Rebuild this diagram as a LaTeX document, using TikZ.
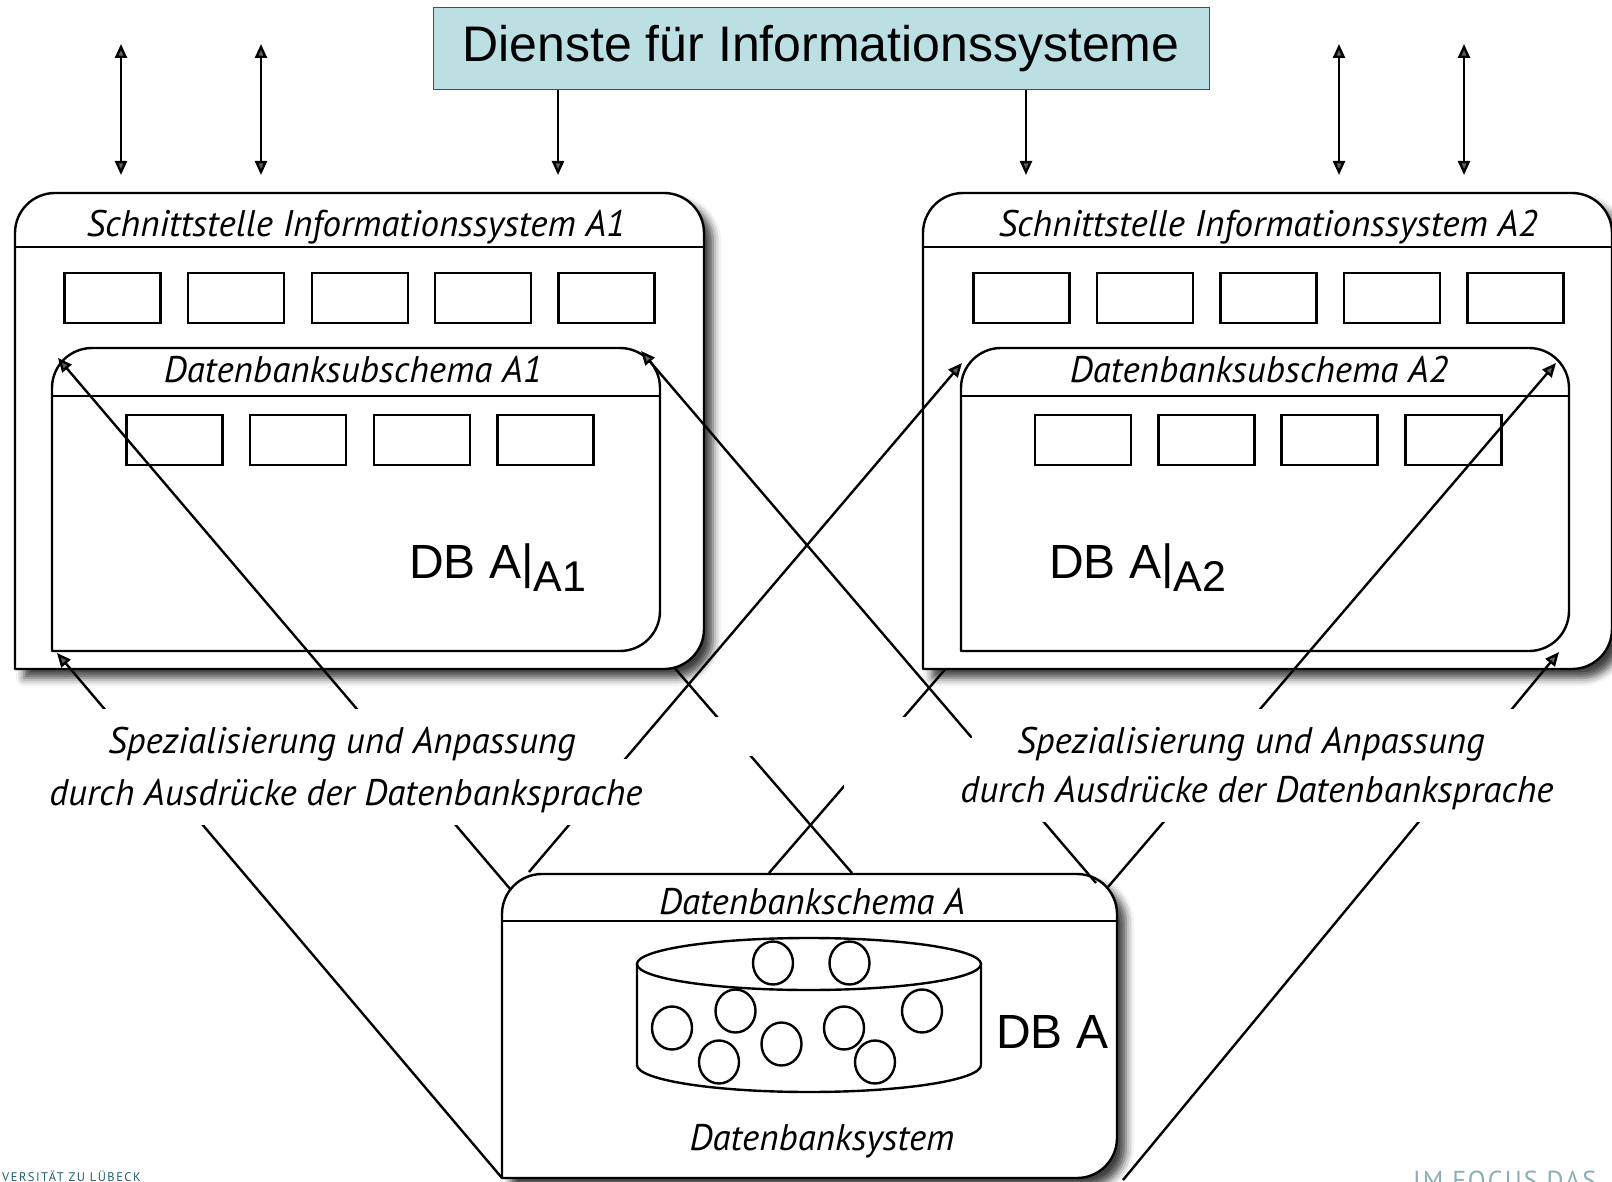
\documentclass[tikz,border=0pt]{standalone}
\usepackage{fontspec}
\setmainfont{Liberation Sans}
\newfontfamily\labelfont{PT Sans}
\usetikzlibrary{arrows.meta,shadows.blur}

\definecolor{titlefill}{HTML}{BBDFE2}
\definecolor{uniblue}{HTML}{1F5C70}
\definecolor{focusblue}{HTML}{8AAEB5}

\tikzset{
  slot/.style={draw,fill=white,minimum width=96pt,minimum height=50pt,inner sep=0pt},
  framebox/.style={draw,fill=white,line join=round},
  dropshadow/.style={blur shadow={shadow xshift=9pt,shadow yshift=-9pt,shadow blur radius=8pt,shadow opacity=75}},
  marble/.style={draw,fill=white,ellipse,minimum width=40pt,minimum height=43pt,inner sep=0pt},
  headtext/.style={font=\labelfont\itshape\fontsize{37}{37}\selectfont,inner sep=0pt,anchor=base},
  dbtext/.style={font=\fontsize{48}{48}\selectfont,inner sep=0pt,anchor=base west},
  link/.style={-{Triangle[length=14pt,width=12pt]}},
  twoway/.style={{Triangle[length=14pt,width=12pt]}-{Triangle[length=14pt,width=12pt]}}
}
\usetikzlibrary{shapes.geometric}

% draws a box with rounded top corners and a head line
\newcommand{\headbox}[6][]{
  \draw[framebox,#1] (#2,#5) [rounded corners=40pt] -- (#2,#3) -- (#4,#3) -- (#4,#5) [sharp corners] -- cycle;
  \draw (#2,#6) -- (#4,#6);
}
\newcommand{\dbsub}[2]{DB A|{\fontsize{43}{43}\selectfont\raisebox{-13pt}{#1#2}}}

\begin{document}
\begin{tikzpicture}
  [x=1pt,y=-1pt,line width=2.4pt]
  \useasboundingbox (0,0) rectangle (1612,1182);
  \clip (0,0) rectangle (1612,1182);

  % line ends
  \coordinate (a1tl) at (58,358);
  \coordinate (a1tr) at (641,351);
  \coordinate (a1bl) at (57,653);
  \coordinate (a1br) at (660,651);
  \coordinate (a2tl) at (962,363);
  \coordinate (a2tr) at (1556,363);
  \coordinate (a2bl) at (961,651);
  \coordinate (a2br) at (1559,652);
  \coordinate (b1) at (502,1178);
  \coordinate (b2) at (511,890);
  \coordinate (b3) at (529,872);
  \coordinate (b4) at (769,873);
  \coordinate (b5) at (852,873);
  \coordinate (b6) at (1096,883);
  \coordinate (b7) at (1108,887);
  \coordinate (b8) at (1123,1180);

  % these two run behind the upper boxes
  \foreach \from/\to in {b5/a1br, b4/a2bl}
    \draw (\from) -- (\to);

  \headbox[dropshadow]{15}{193}{704}{669}{247}
  \headbox[dropshadow]{923}{193}{1612}{669}{247}
  \headbox[dropshadow]{502}{874}{1117}{1178}{921}
  \headbox{52}{348}{660}{651}{396}
  \headbox{961}{348}{1569}{651}{396}

  \node[slot] (u1) at (112.5,298) {};
  \node[slot] (u2) at (236,298) {};
  \node[slot] (u3) at (360,298) {};
  \node[slot] (u4) at (483,298) {};
  \node[slot] (u5) at (606.5,298) {};
  \node[slot] (v1) at (174.5,440) {};
  \node[slot] (v2) at (298,440) {};
  \node[slot] (v3) at (422,440) {};
  \node[slot] (v4) at (545.5,440) {};
  \node[slot] (p1) at (1021.5,298) {};
  \node[slot] (p2) at (1145,298) {};
  \node[slot] (p3) at (1268.5,298) {};
  \node[slot] (p4) at (1392,298) {};
  \node[slot] (p5) at (1515.5,298) {};
  \node[slot] (q1) at (1083,440) {};
  \node[slot] (q2) at (1206.5,440) {};
  \node[slot] (q3) at (1329.5,440) {};
  \node[slot] (q4) at (1453.5,440) {};

  % database cylinder
  \draw[fill=white] (637,964) -- (637,1065) arc[start angle=180,end angle=360,x radius=172,y radius=-27] -- (981,964);
  \draw[fill=white] (809,964) ellipse[x radius=172,y radius=26];
  \node[marble] (m1) at (773,963) {};
  \node[marble] (m2) at (849.5,963) {};
  \node[marble] (m3) at (735.5,1011) {};
  \node[marble] (m4) at (672,1028) {};
  \node[marble] (m5) at (719,1062) {};
  \node[marble] (m6) at (781.5,1044) {};
  \node[marble] (m7) at (844,1028) {};
  \node[marble] (m8) at (875,1062) {};
  \node[marble] (m9) at (922,1011) {};

  \foreach \from/\to in {b1/a1bl, b2/a1tl, b3/a2tl, b6/a1tr, b7/a2tr, b8/a2br}
    \draw[link] (\from) -- (\to);

  % white gaps for the two captions
  \fill[white] (0,709) rectangle (620,759);
  \fill[white] (0,759) rectangle (690,825);
  \fill[white] (700,717) rectangle (930,756);
  \fill[white] (844,738) rectangle (972,822);
  \fill[white] (972,709) rectangle (1612,822);

  \node[headtext] (ifA) at (356,237) {Schnittstelle Informationssystem A1};
  \node[headtext] (ifB) at (1268,237) {Schnittstelle Informationssystem A2};
  \node[headtext] (subA) at (353,382) {Datenbanksubschema A1};
  \node[headtext] (subB) at (1259,382) {Datenbanksubschema A2};
  \node[headtext] (dbschema) at (812,914) {Datenbankschema A};
  \node[headtext] (dbsys) at (822,1150) {Datenbanksystem};
  \node[headtext] (specA1) at (342,753) {Spezialisierung und Anpassung};
  \node[headtext] (specA2) at (346,805) {durch Ausdrücke der Datenbanksprache};
  \node[headtext] (specB1) at (1251,753) {Spezialisierung und Anpassung};
  \node[headtext] (specB2) at (1257,802) {durch Ausdrücke der Datenbanksprache};
  \node[dbtext] (dbA1) at (408,578) {\dbsub{A}{1}};
  \node[dbtext] (dbA2) at (1048,578) {\dbsub{A}{2}};
  \node[dbtext] (dbA) at (995,1048) {DB A};

  \node[draw=black!70,line width=1pt,fill=titlefill,minimum width=776pt,minimum height=82pt,inner sep=0pt,font=\fontsize{50}{50}\selectfont] (title) at (821,49) {Dienste für Informationssysteme};

  \coordinate (t1) at (558,175);
  \coordinate (t2) at (1026,175);
  \draw[link] (title.south -| t1) -- (t1);
  \draw[link] (title.south -| t2) -- (t2);
  \foreach \x in {121,261,1339,1464}
    \draw[twoway] (\x,44) -- (\x,175);

  \node[anchor=base west,inner sep=0pt,text=uniblue,font=\labelfont\fontsize{12.5}{12.5}\selectfont\addfontfeature{LetterSpace=12}] (uni) at (1,1181) {VERSITÄT ZU LÜBECK};
  \node[anchor=base west,inner sep=0pt,text=focusblue,font=\labelfont\fontsize{26}{26}\selectfont\addfontfeature{LetterSpace=8}] (focus) at (1412,1189) {IM FOCUS DAS};
\end{tikzpicture}
\end{document}
